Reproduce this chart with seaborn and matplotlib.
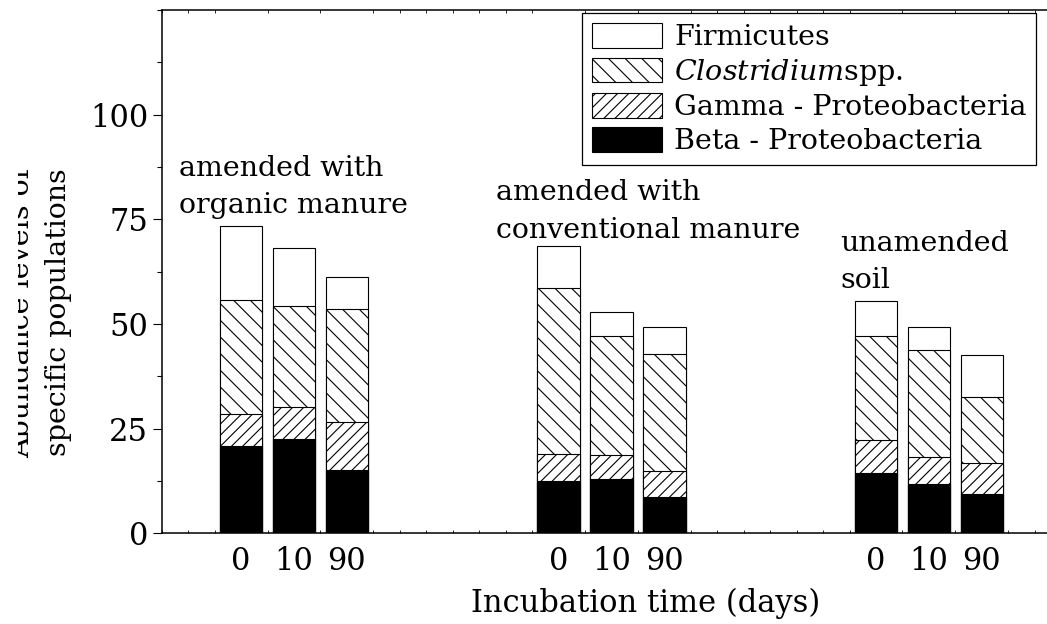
import matplotlib
matplotlib.use("Agg")
import matplotlib.pyplot as plt
import pandas as pd
import seaborn as sns
from matplotlib.patches import Patch
from matplotlib.ticker import MultipleLocator
from matplotlib.transforms import Bbox, TransformedBbox

# ---- data ----
treatments = ["amended with\norganic manure",
              "amended with\nconventional manure",
              "unamended\nsoil"]
days = ["0", "10", "90"]
beta = [20.9, 22.5, 15.2, 12.5, 12.9, 8.7, 14.4, 11.7, 9.4]
gamma = [7.6, 7.7, 11.4, 6.4, 5.8, 6.2, 7.8, 6.6, 7.3]
clostridium = [27.3, 24.2, 26.9, 39.8, 28.4, 28.0, 24.9, 25.6, 15.8]
firmicutes = [17.5, 13.8, 7.8, 10.0, 5.8, 6.3, 8.4, 5.3, 10.2]
legend_labels = ["Firmicutes", r"$\mathit{Clostridium}$spp.",
                 "Gamma - Proteobacteria", "Beta - Proteobacteria"]
yticks = [0, 25, 50, 75, 100]

# ---- style ----
sns.set_theme(style="ticks")
plt.rcParams["font.family"] = ["DejaVu Serif"]
plt.rcParams["mathtext.fontset"] = "dejavuserif"
plt.rcParams["hatch.linewidth"] = 0.8
plt.rcParams["hatch.color"] = "black"
for k in ["text.color", "axes.labelcolor", "xtick.color", "ytick.color",
          "axes.edgecolor"]:
    plt.rcParams[k] = "black"

W, H = 1047, 624
fig = plt.figure(figsize=(W / 100, H / 100), dpi=100)
ax = fig.add_axes([161.7 / W, (H - 533.3) / H, (1130 - 161.7) / W, (533.3 - 10) / H])

group_gap = 6
pos = [g * group_gap + d for g in range(len(treatments)) for d in range(len(days))]
df = pd.DataFrame({"pos": pos, "beta": beta, "gamma": gamma,
                   "clos": clostridium, "firm": firmicutes})
df["c_beta"] = df["beta"]
df["c_gamma"] = df["c_beta"] + df["gamma"]
df["c_clos"] = df["c_gamma"] + df["clos"]
df["c_firm"] = df["c_clos"] + df["firm"]

layers = [("c_firm", "white", ""),
          ("c_clos", "white", "\\\\"),
          ("c_gamma", "white", "///"),
          ("c_beta", "black", "")]
for col, fc, hatch in layers:
    sns.barplot(data=df, x="pos", y=col, native_scale=True, color=fc,
                saturation=1, edgecolor="black", linewidth=0.8, hatch=hatch,
                errorbar=None, width=0.8, ax=ax)

# ---- axes ----
ax.set_xlim(-1.5, 16.8)
ax.set_ylim(0, 125)
ax.set_xticks(pos, days * len(treatments))
ax.set_yticks(yticks)
ax.yaxis.set_minor_locator(MultipleLocator(12.5))
ax.xaxis.set_minor_locator(MultipleLocator(0.5))
for s in ["left", "bottom", "top"]:
    ax.spines[s].set_visible(True)
    ax.spines[s].set_linewidth(1.1)
    ax.spines[s].set_color("black")
ax.spines["right"].set_visible(False)

ax.tick_params(axis="y", which="major", direction="out", length=6.7, width=0.8,
               labelsize=22, pad=3, colors="black")
ax.tick_params(axis="y", which="minor", direction="out", length=3.6, width=0.8,
               colors="black")
ax.tick_params(axis="x", which="major", length=0, labelsize=22, pad=9,
               colors="black")
ax.tick_params(axis="x", which="minor", direction="in", length=2, width=0.6,
               top=True, bottom=True, colors="black")
ax.set_ylabel("")
ax.set_xlabel("Incubation time (days)", fontsize=22, labelpad=8, color="black")

# ---- group annotations ----
anno_x = [-1.18, 4.81, 11.33]
anno_y = [90.4, 84.6, 72.5]
for t, x, y in zip(treatments, anno_x, anno_y):
    ax.text(x, y, t, fontsize=20.5, ha="left", va="top", linespacing=1.5,
            color="black")

# ---- y label (clipped at the left like the reference) ----
yl = fig.text(72 / W, (H - 313) / H, "Abundance levels of\nspecific populations",
              rotation=90, ha="right", va="center", fontsize=20.5,
              linespacing=1.48, color="black")
yl.set_clip_box(TransformedBbox(Bbox([[18 / W, 0], [1, 1]]), fig.transFigure))
yl.set_clip_on(True)

# ---- legend ----
handles = [Patch(facecolor="white", edgecolor="black", linewidth=0.8),
           Patch(facecolor="white", edgecolor="black", linewidth=0.8, hatch="\\\\"),
           Patch(facecolor="white", edgecolor="black", linewidth=0.8, hatch="///"),
           Patch(facecolor="black", edgecolor="black", linewidth=0.8)]
leg = fig.legend(handles, legend_labels, loc="upper left",
                 bbox_to_anchor=(582 / W, 1 - 13 / H), bbox_transform=fig.transFigure,
                 borderaxespad=0, fontsize=20.5, frameon=True, fancybox=False,
                 framealpha=1, edgecolor="black", handlelength=2.46,
                 handleheight=0.95, handletextpad=0.42, labelspacing=0.2,
                 borderpad=0.35)
leg.get_frame().set_linewidth(0.9)
for txt in leg.get_texts():
    txt.set_color("black")

fig.savefig("out.png", dpi=100)
